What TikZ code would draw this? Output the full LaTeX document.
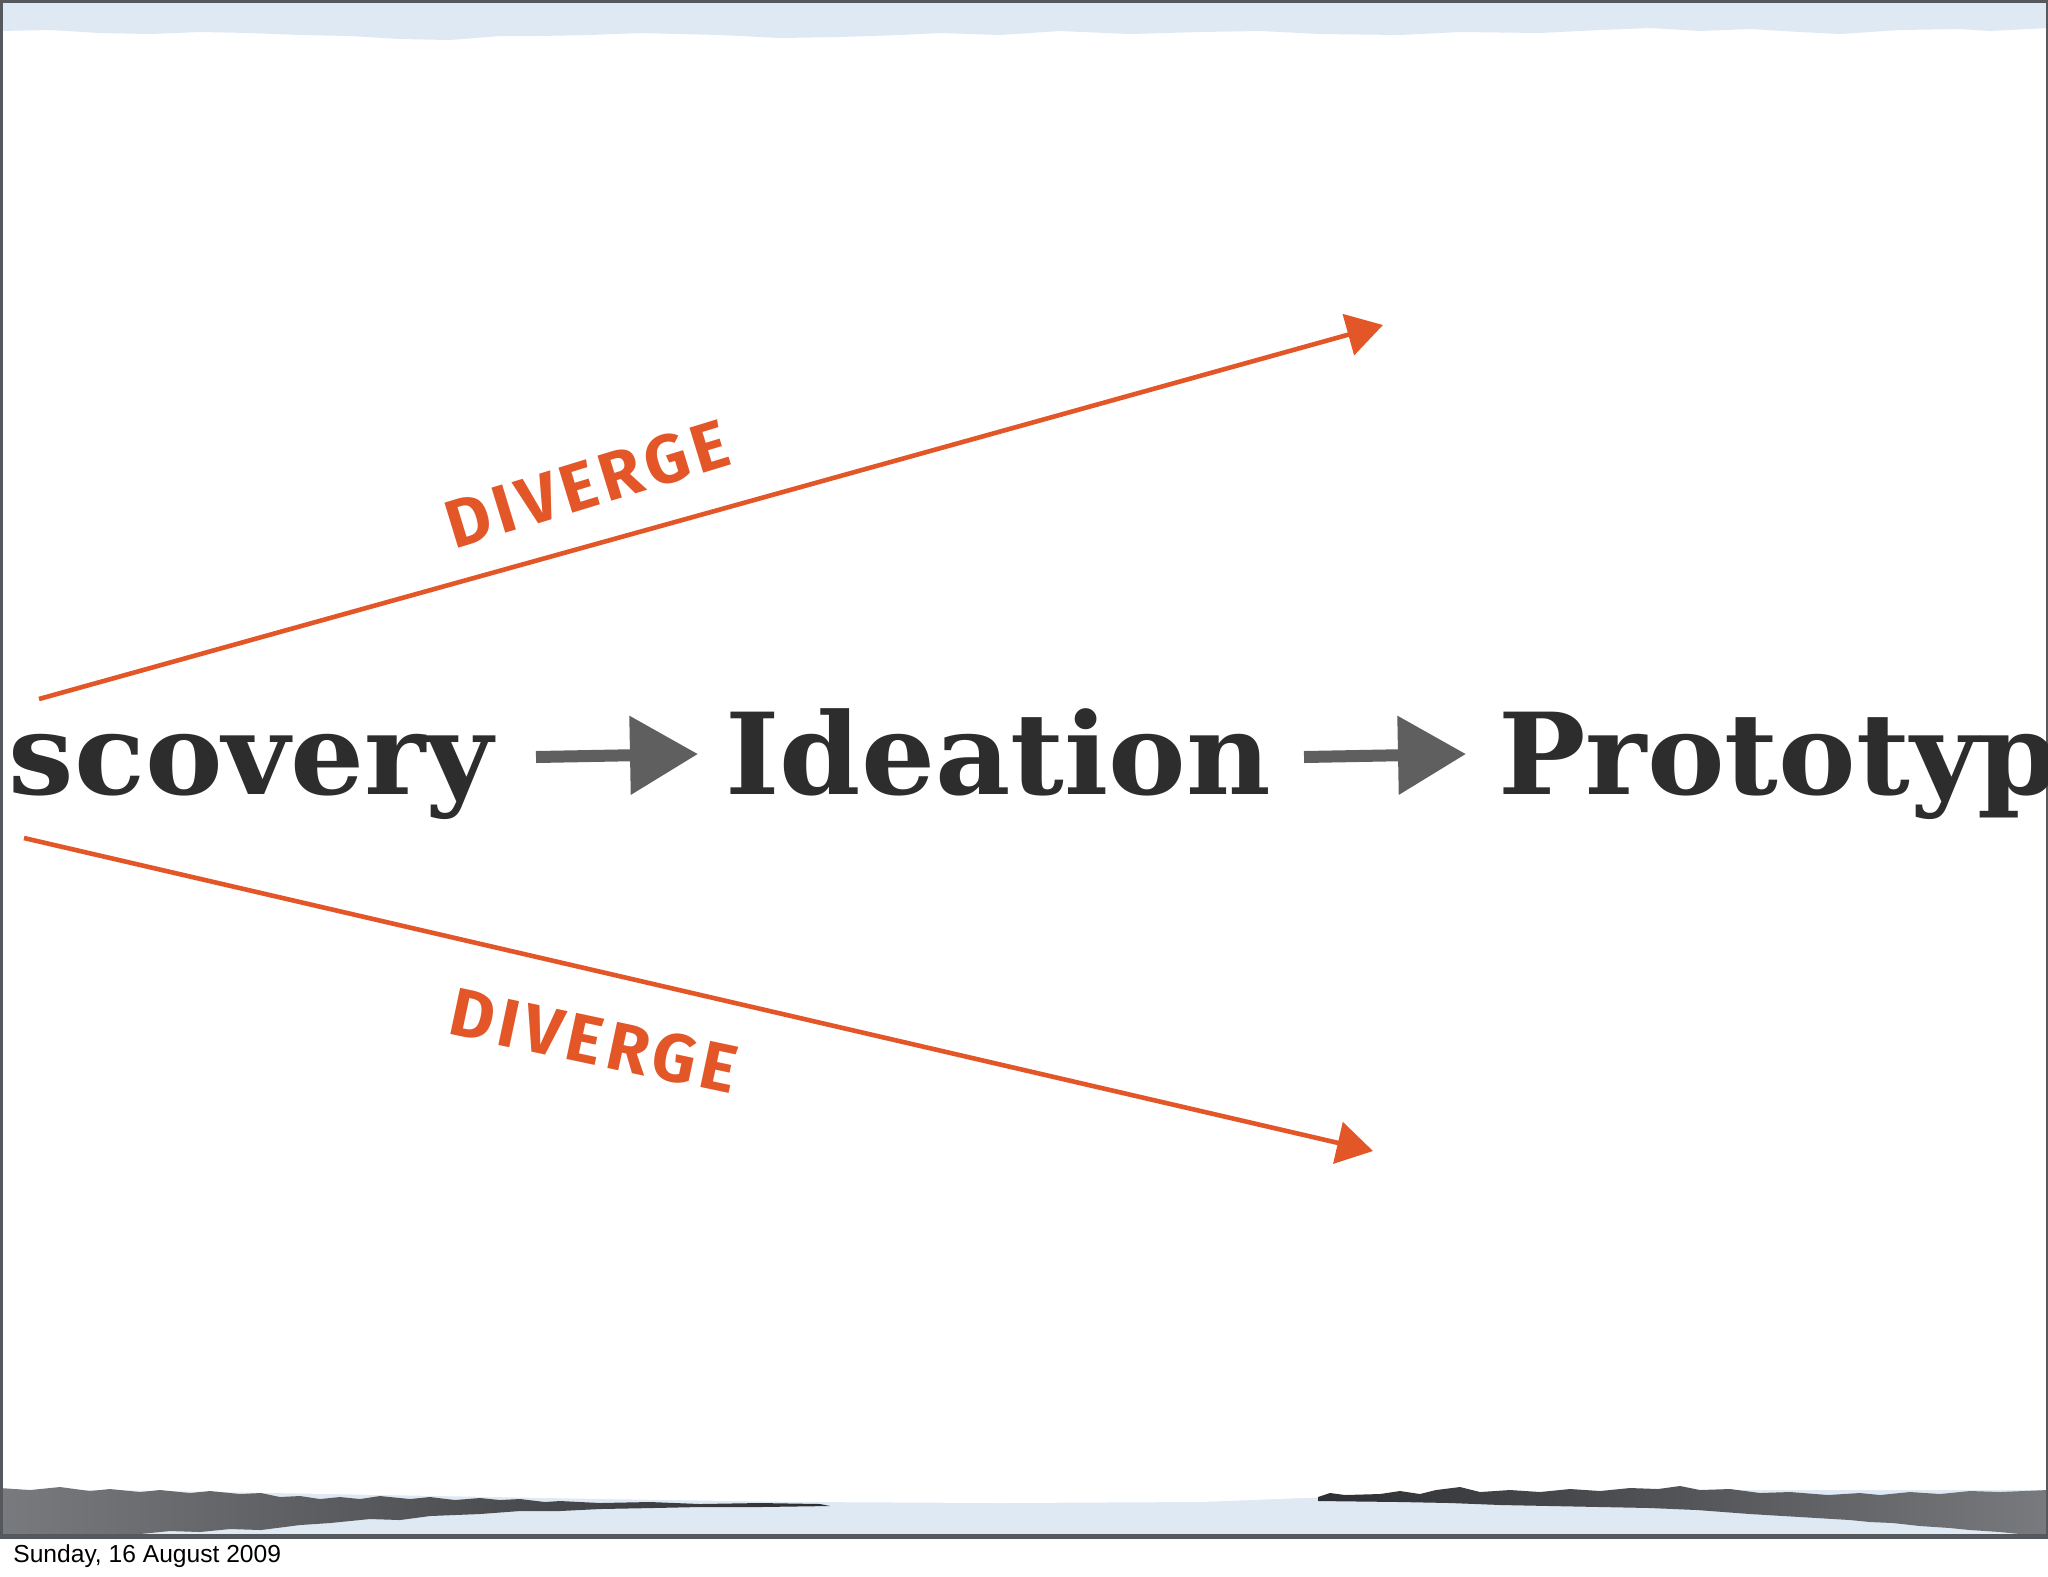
\documentclass[tikz,border=0pt]{standalone}
\usepackage{fontspec}
\setmainfont{DejaVu Serif}
\newfontfamily\slabfont{DejaVu Serif}
\newfontfamily\handfont[LetterSpace=8]{Fira Sans}
\newfontfamily\datefont{Liberation Sans}
\usetikzlibrary{arrows.meta}
\definecolor{diverge}{RGB}{226,86,40}
\definecolor{inkgray}{RGB}{45,45,45}
\definecolor{arrowgray}{RGB}{95,95,95}
\definecolor{bandblue}{RGB}{222,233,244}
\definecolor{framegray}{RGB}{85,88,92}
\definecolor{darkband}{RGB}{45,47,50}
\definecolor{lightband}{RGB}{120,122,126}
\tikzset{
  wordstyle/.style={inner sep=0pt, text=inkgray, xscale=1.03, font=\slabfont\bfseries\fontsize{56.5pt}{60pt}\selectfont},
  divlabel/.style={inner sep=0pt, text=diverge, font=\handfont\bfseries\fontsize{34pt}{36pt}\selectfont},
  divarrow/.style={draw=diverge, line width=2.3pt, -{Triangle[length=18pt,width=21pt]}},
  grayarrow/.style={draw=arrowgray, line width=6pt, -{Triangle[length=34pt,width=38pt]}},
  datestyle/.style={inner sep=0pt, text=black, font=\datefont\fontsize{12.3pt}{14pt}\selectfont}
}
\begin{document}
\begin{tikzpicture}[x=0.5pt,y=-0.5pt]
\useasboundingbox (0,0) rectangle (2048,1576);
\fill[white] (0,0) rectangle (2048,1576);
% top band
\fill[bandblue] (0,0) -- (2048,0) -- (2048,28) -- (1990,31) -- (1960,29) -- (1900,30) -- (1840,34) -- (1800,32) -- (1750,29) -- (1700,31) -- (1650,28) -- (1600,30) -- (1540,33) -- (1460,32) -- (1400,35) -- (1320,34) -- (1260,31) -- (1200,32) -- (1130,34) -- (1060,31) -- (1000,35) -- (940,33) -- (900,35) -- (840,37) -- (780,38) -- (720,35) -- (640,33) -- (590,35) -- (540,36) -- (500,36) -- (450,40) -- (400,39) -- (350,36) -- (300,35) -- (250,33) -- (200,32) -- (150,34) -- (100,33) -- (50,30) -- (0,31) -- cycle;
% bottom band
\fill[bandblue] (0,1490) rectangle (2048,1536);
\fill[white] (0,1470) -- (2048,1470) -- (2048,1488) -- (1800,1489) -- (1500,1494) -- (1330,1497) -- (1200,1502) -- (1000,1503) -- (800,1502) -- (600,1499) -- (0,1488) -- cycle;
\shade[left color=lightband, right color=darkband] (0,1488) -- (30,1490) -- (60,1487) -- (90,1491) -- (110,1489) -- (140,1492) -- (160,1490) -- (190,1493) -- (210,1491) -- (240,1494) -- (261,1493) -- (280,1497) -- (300,1496) -- (320,1499) -- (340,1497) -- (360,1499) -- (380,1496) -- (410,1499) -- (430,1497) -- (455,1500) -- (480,1498) -- (500,1500) -- (520,1499) -- (545,1502) -- (560,1501) -- (600,1503) -- (650,1502) -- (700,1504) -- (760,1503) -- (820,1504) -- (830,1506) -- (760,1507) -- (700,1507) -- (653,1508) -- (600,1509) -- (560,1511) -- (520,1511) -- (480,1514) -- (430,1516) -- (400,1520) -- (370,1519) -- (330,1523) -- (300,1525) -- (261,1530) -- (230,1529) -- (200,1532) -- (170,1531) -- (140,1534) -- (80,1534) -- (0,1535) -- cycle;
\shade[left color=darkband, right color=lightband] (1318,1497) -- (1330,1493) -- (1345,1495) -- (1380,1494) -- (1400,1491) -- (1420,1494) -- (1436,1490) -- (1460,1487) -- (1480,1492) -- (1510,1490) -- (1540,1492) -- (1570,1489) -- (1600,1491) -- (1630,1488) -- (1658,1489) -- (1680,1486) -- (1700,1490) -- (1730,1489) -- (1760,1493) -- (1790,1492) -- (1828,1495) -- (1860,1493) -- (1880,1495) -- (1910,1492) -- (1940,1494) -- (1970,1491) -- (2000,1492) -- (2048,1490) -- (2048,1535) -- (2020,1534) -- (2000,1532) -- (1970,1530) -- (1950,1528) -- (1920,1526) -- (1893,1523) -- (1870,1522) -- (1850,1520) -- (1800,1517) -- (1750,1514) -- (1697,1510) -- (1650,1508) -- (1600,1507) -- (1550,1506) -- (1501,1505) -- (1450,1503) -- (1400,1502) -- (1318,1501) -- cycle;
% frame
\draw[framegray, line width=2.5pt] (0,0) rectangle (2048,1536);
% words
\node[wordstyle, anchor=base east] (discovery) at (494,794) {scovery};
\node[wordstyle, anchor=base west] (ideation) at (725,794) {Ideation};
\node[wordstyle, anchor=base west] (prototype) at (1498,794) {Prototyp};
% gray arrows
\coordinate (g1s) at (536,757);
\coordinate (g1e) at (698,754);
\coordinate (g2s) at (1304,757);
\coordinate (g2e) at (1466,754);
\draw[grayarrow] (g1s) -- (g1e);
\draw[grayarrow] (g2s) -- (g2e);
% diverge arrows
\coordinate (u1) at (39,699);
\coordinate (u2) at (1383,325);
\coordinate (l1) at (24,838);
\coordinate (l2) at (1373,1151);
\draw[divarrow] (u1) -- (u2);
\draw[divarrow] (l1) -- (l2);
\node[divlabel, rotate=17] (divup) at (587,484) {DIVERGE};
\node[divlabel, rotate=-12] (divdown) at (594,1041) {DIVERGE};
% date
\node[datestyle, anchor=base west] (date) at (13,1562) {Sunday, 16 August 2009};
\end{tikzpicture}
\end{document}
